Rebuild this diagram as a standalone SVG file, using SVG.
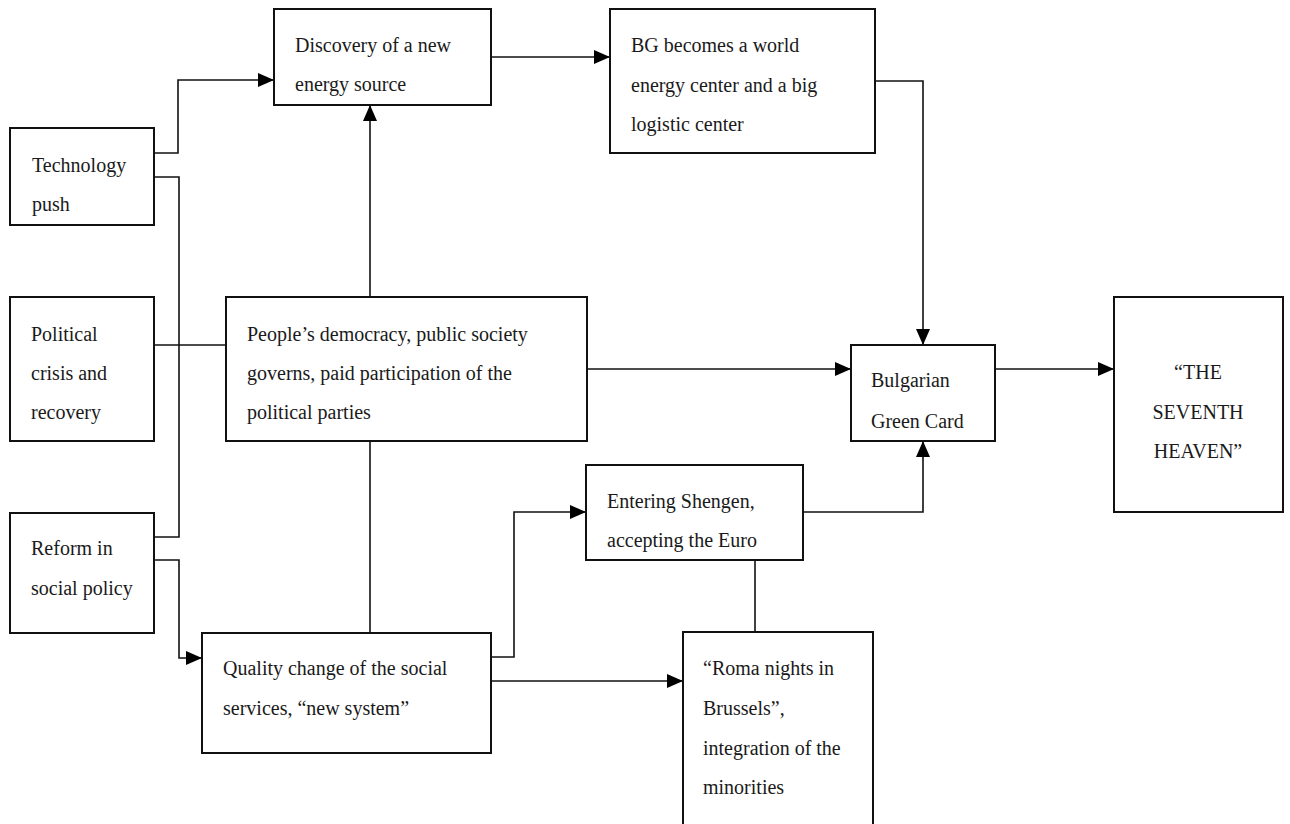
<svg xmlns="http://www.w3.org/2000/svg" width="1290" height="824" viewBox="0 0 1290 824">
  <defs>
    <style>
      .box { fill: #ffffff; stroke: #111111; stroke-width: 2; }
      .lbl { font-family: "Liberation Serif", "Times New Roman", serif; font-size: 20px; fill: #1a1a1a; }
      .mid { text-anchor: middle; }
      .wire { fill: none; stroke: #111111; stroke-width: 1.6; }
    </style>
    <marker id="arrow" markerUnits="userSpaceOnUse" markerWidth="16" markerHeight="14" refX="16" refY="7" orient="auto">
      <path d="M0,0 L16,7 L0,14 z" fill="#000000"/>
    </marker>
  </defs>

  <rect width="1290" height="824" fill="#ffffff"/>

  <!-- connectors -->
  <g id="connectors">
    <path class="wire" d="M154,153 H178 V80 H274" marker-end="url(#arrow)"/>
    <path class="wire" d="M154,177 H179 V537 H154"/>
    <path class="wire" d="M154,345 H226"/>
    <path class="wire" d="M370,297 V105" marker-end="url(#arrow)"/>
    <path class="wire" d="M491,57 H610" marker-end="url(#arrow)"/>
    <path class="wire" d="M875,81 H923 V345" marker-end="url(#arrow)"/>
    <path class="wire" d="M587,369 H851" marker-end="url(#arrow)"/>
    <path class="wire" d="M995,369 H1114" marker-end="url(#arrow)"/>
    <path class="wire" d="M154,560 H179 V658 H202" marker-end="url(#arrow)"/>
    <path class="wire" d="M370,441 V633"/>
    <path class="wire" d="M491,657 H514 V512 H586" marker-end="url(#arrow)"/>
    <path class="wire" d="M803,512 H923 V441" marker-end="url(#arrow)"/>
    <path class="wire" d="M491,681 H683" marker-end="url(#arrow)"/>
    <path class="wire" d="M755,560 V632"/>
  </g>

  <g id="technology-push">
    <rect class="box" x="10" y="128" width="144" height="97"/>
    <text class="lbl" x="32" y="172">Technology</text>
    <text class="lbl" x="32" y="211">push</text>
  </g>

  <g id="political-crisis">
    <rect class="box" x="10" y="297" width="144" height="144"/>
    <text class="lbl" x="31" y="341">Political</text>
    <text class="lbl" x="31" y="380">crisis and</text>
    <text class="lbl" x="31" y="419">recovery</text>
  </g>

  <g id="reform-social-policy">
    <rect class="box" x="10" y="513" width="144" height="120"/>
    <text class="lbl" x="31" y="555">Reform in</text>
    <text class="lbl" x="31" y="595">social policy</text>
  </g>

  <g id="new-energy-source">
    <rect class="box" x="274" y="9" width="217" height="96"/>
    <text class="lbl" x="295" y="52">Discovery of a new</text>
    <text class="lbl" x="295" y="91">energy source</text>
  </g>

  <g id="world-energy-center">
    <rect class="box" x="610" y="9" width="265" height="144"/>
    <text class="lbl" x="631" y="52">BG becomes a world</text>
    <text class="lbl" x="631" y="92">energy center and a big</text>
    <text class="lbl" x="631" y="131">logistic center</text>
  </g>

  <g id="peoples-democracy">
    <rect class="box" x="226" y="297" width="361" height="144"/>
    <text class="lbl" x="247" y="341">People’s democracy, public society</text>
    <text class="lbl" x="247" y="380">governs, paid participation of the</text>
    <text class="lbl" x="247" y="419">political parties</text>
  </g>

  <g id="green-card">
    <rect class="box" x="851" y="345" width="144" height="96"/>
    <text class="lbl" x="871" y="387">Bulgarian</text>
    <text class="lbl" x="871" y="428">Green Card</text>
  </g>

  <g id="seventh-heaven">
    <rect class="box" x="1114" y="297" width="169" height="215"/>
    <text class="lbl mid" x="1198" y="379">“THE</text>
    <text class="lbl mid" x="1198" y="419">SEVENTH</text>
    <text class="lbl mid" x="1198" y="458">HEAVEN”</text>
  </g>

  <g id="shengen-euro">
    <rect class="box" x="586" y="465" width="217" height="95"/>
    <text class="lbl" x="607" y="508">Entering Shengen,</text>
    <text class="lbl" x="607" y="547">accepting the Euro</text>
  </g>

  <g id="social-services">
    <rect class="box" x="202" y="633" width="289" height="120"/>
    <text class="lbl" x="223" y="675">Quality change of the social</text>
    <text class="lbl" x="223" y="715">services, “new system”</text>
  </g>

  <g id="roma-nights">
    <rect class="box" x="683" y="632" width="190" height="200"/>
    <text class="lbl" x="703" y="675">“Roma nights in</text>
    <text class="lbl" x="703" y="715">Brussels”,</text>
    <text class="lbl" x="703" y="755">integration of the</text>
    <text class="lbl" x="703" y="794">minorities</text>
  </g>
</svg>
